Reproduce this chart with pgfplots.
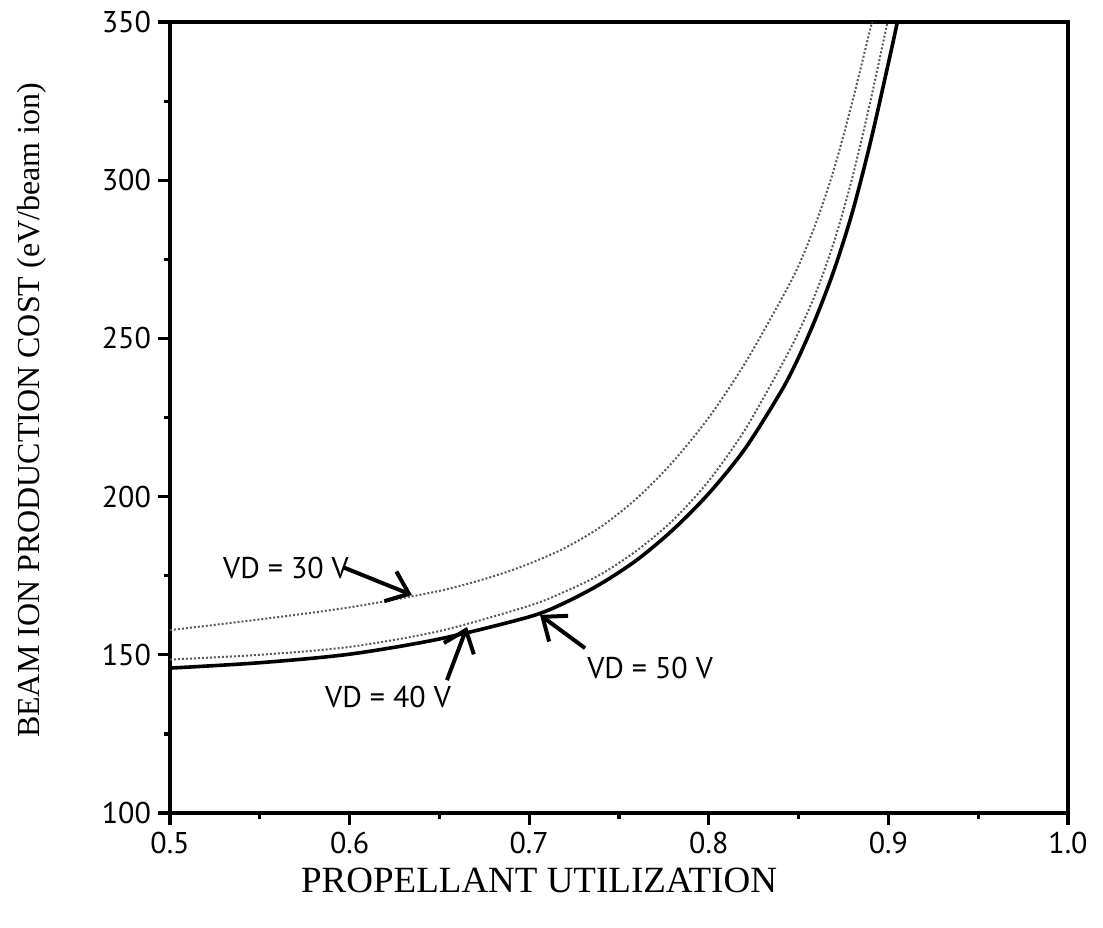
\documentclass[border=0pt]{standalone}
\usepackage{fontspec}
\setmainfont{Liberation Serif}
\newfontfamily\tickfont{PT Sans}
\usepackage{pgfplots}
\pgfplotsset{compat=1.18}
\usetikzlibrary{arrows.meta}
\begin{document}
\begin{tikzpicture}
\begin{axis}[
  scale only axis, width=449pt, height=395.5pt,
  xmin=0.5, xmax=1.0, ymin=100, ymax=350,
  xtick={0.5,0.6,0.7,0.8,0.9,1.0},
  ytick={100,150,200,250,300,350},
  minor x tick num=1, minor y tick num=1,
  tick align=outside, xtick pos=bottom, ytick pos=left,
  major tick length=6pt, minor tick length=3pt,
  axis line style={line width=1.8pt},
  every tick/.style={line width=1.6pt, black},
  xticklabel style={/pgf/number format/.cd,fixed,fixed zerofill,precision=1},
  /pgf/number format/assume math mode=true,
  ticklabel style={font=\fontsize{15}{18}\tickfont},
  xlabel={PROPELLANT UTILIZATION},
  ylabel={BEAM ION PRODUCTION COST (eV/beam ion)},
  xlabel style={font=\fontsize{18.5}{22}\selectfont, at={(axis description cs:0.411,-0.0847)}, anchor=center},
  ylabel style={font=\fontsize{16}{20}\selectfont, at={(axis description cs:-0.1537,0.509)}, anchor=center},
]
% VD = 30 V
\addplot[black!65, line width=1pt, densely dotted, smooth] coordinates {
(0.50,157.8) (0.55,161.2) (0.60,165) (0.65,170.2) (0.68,174.8) (0.70,178.8) (0.72,183.8) (0.74,190.5)
(0.76,199.5) (0.78,211) (0.80,225) (0.82,242) (0.84,262) (0.85,273) (0.86,287)
(0.87,304) (0.88,325) (0.89,348) (0.891,350)};
% VD = 40 V
\addplot[black!65, line width=1pt, densely dotted, smooth] coordinates {
(0.50,148.5) (0.55,150) (0.60,152.5) (0.65,157.5) (0.70,165.5) (0.72,170) (0.74,175.5)
(0.76,183) (0.78,192.5) (0.80,205) (0.82,221) (0.84,241) (0.85,252) (0.86,265)
(0.87,281) (0.88,301) (0.89,325) (0.8995,350)};
% VD = 50 V
\addplot[black, line width=1.8pt, smooth] coordinates {
(0.50,145.8) (0.55,147.5) (0.60,150.2) (0.65,155) (0.70,162) (0.72,166.5) (0.74,172.5)
(0.76,180) (0.78,189.5) (0.80,201) (0.82,215) (0.84,233) (0.85,244) (0.86,257)
(0.87,272) (0.88,290) (0.89,312) (0.90,337) (0.905,350)};
\node[font=\fontsize{15}{18}\tickfont] at (axis cs:0.5646,177.4) {VD = 30 V};
\node[font=\fontsize{15}{18}\tickfont] at (axis cs:0.6214,136.7) {VD = 40 V};
\node[font=\fontsize{15}{18}\tickfont] at (axis cs:0.7673,145.8) {VD = 50 V};
\draw[line width=2pt, -{Straight Barb[length=10pt,width=16pt]}] (axis cs:0.5963,177.7) -- (axis cs:0.6347,168.9);
\draw[line width=2pt, -{Straight Barb[length=10pt,width=16pt]}] (axis cs:0.6542,142.0) -- (axis cs:0.6654,158.8);
\draw[line width=2pt, -{Straight Barb[length=10pt,width=16pt]}] (axis cs:0.7311,152.1) -- (axis cs:0.7060,162.6);
\end{axis}
\pgfresetboundingbox
\path[use as bounding box] (-85pt,-57pt) rectangle (466.5pt,406.5pt);
\end{tikzpicture}
\end{document}
